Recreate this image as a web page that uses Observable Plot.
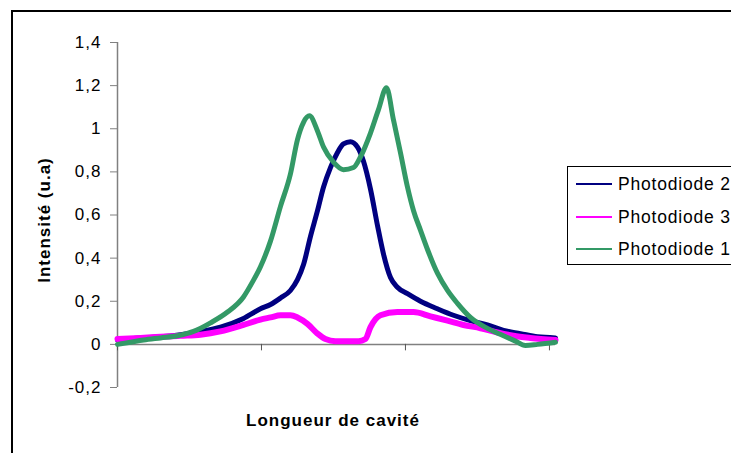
<!DOCTYPE html>
<html><head><meta charset="utf-8">
<script src="https://cdn.jsdelivr.net/npm/d3@7"></script>
<script src="https://cdn.jsdelivr.net/npm/@observablehq/plot@0.6"></script>
<style>
body{margin:0;background:#fff;}
#wrap{position:relative;width:731px;height:453px;overflow:hidden;font-family:Arial,"Liberation Sans",sans-serif;background:#fff;}
#wrap svg{position:absolute;left:0;top:0;}
#wrap svg text{letter-spacing:1px;}
#frame{position:absolute;left:11px;top:10px;width:800px;height:500px;border-left:2px solid #000;border-top:2px solid #000;pointer-events:none;}
#legend{position:absolute;left:567px;top:166px;width:200px;height:97px;border:1px solid #000;background:#fff;}
.item{position:absolute;left:8px;height:20px;display:flex;align-items:center;font-size:17.5px;letter-spacing:0.8px;white-space:nowrap;}
.swatch{display:inline-block;width:36px;height:0;border-top:2px solid;margin-right:6px;}
.ylab{position:absolute;left:45px;top:220px;transform:translate(-50%,-50%) rotate(-90deg);font-weight:bold;font-size:17px;letter-spacing:1px;white-space:nowrap;}
.xlab{position:absolute;left:333px;top:421px;transform:translate(-50%,-50%);font-weight:bold;font-size:17px;letter-spacing:1px;white-space:nowrap;}
</style></head>
<body>
<div id="wrap"></div>
<script>
// Series (x: cavity length, arbitrary units; y: intensity u.a)
const seriesNames = ["Photodiode 2", "Photodiode 3", "Photodiode 1"];
const seriesColors = ["#000080", "#FF00FF", "#339966"];

const p2X = [0,0.160,0.299,0.438,0.576,0.715,0.875,0.993,1.063,1.132,1.201,1.250,1.292,1.340,1.389,1.431,1.479,1.528,1.569,1.618,1.667,1.708,1.757,1.806,1.847,1.896,1.944,2.014,2.104,2.222,2.333,2.451,2.569,2.681,2.799,2.917,3.042];
const p2Y = [0.02,0.03,0.035,0.045,0.06,0.08,0.12,0.165,0.185,0.215,0.25,0.30,0.37,0.50,0.62,0.73,0.82,0.89,0.93,0.94,0.915,0.85,0.72,0.55,0.42,0.31,0.265,0.235,0.20,0.165,0.135,0.11,0.09,0.065,0.05,0.035,0.03];

const p3X = [0,0.160,0.299,0.438,0.576,0.715,0.875,0.993,1.063,1.132,1.201,1.250,1.319,1.389,1.444,1.514,1.597,1.674,1.722,1.757,1.826,1.944,2.056,2.174,2.292,2.403,2.521,2.639,2.750,2.868,3.042];
const p3Y = [0.025,0.03,0.035,0.04,0.045,0.06,0.09,0.115,0.125,0.135,0.135,0.125,0.095,0.05,0.025,0.015,0.015,0.015,0.025,0.08,0.135,0.15,0.15,0.13,0.11,0.09,0.075,0.055,0.04,0.03,0.02];

const p1X = [0,0.090,0.181,0.299,0.417,0.528,0.646,0.764,0.875,0.938,0.993,1.063,1.132,1.201,1.250,1.292,1.333,1.389,1.431,1.500,1.569,1.639,1.688,1.757,1.813,1.868,1.917,1.965,2.014,2.056,2.104,2.153,2.222,2.292,2.361,2.451,2.569,2.681,2.764,2.833,2.917,3.042];
const p1Y = [0.0,0.01,0.02,0.03,0.04,0.06,0.10,0.15,0.22,0.29,0.36,0.48,0.64,0.79,0.95,1.03,1.06,0.99,0.915,0.845,0.81,0.82,0.87,0.98,1.09,1.19,1.04,0.89,0.73,0.62,0.53,0.44,0.33,0.25,0.19,0.125,0.074,0.04,0.015,-0.005,0.0,0.01];

const yTicks = [-0.2,0,0.2,0.4,0.6,0.8,1,1.2,1.4];
const yTickLabels = ["-0,2","0","0,2","0,4","0,6","0,8","1","1,2","1,4"];
const xTicks = [0,1,2,3];
const xDomain = [0, 3.042];
const yDomain = [-0.2, 1.4];
const yTitle = "Intensité (u.a)";
const xTitle = "Longueur de cavité";

const table = (xs, ys, name) => xs.map((x, i) => ({x, y: ys[i], series: name}));
const d2 = table(p2X, p2Y, seriesNames[0]);
const d3s = table(p3X, p3Y, seriesNames[1]);
const d1 = table(p1X, p1Y, seriesNames[2]);

const chart = Plot.plot({
  width: 731, height: 453,
  marginLeft: 117, marginRight: 176, marginTop: 42, marginBottom: 66,
  style: {fontFamily: "Arial, 'Liberation Sans', sans-serif", fontSize: "17px", background: "transparent", color: "#000"},
  x: {domain: xDomain, axis: null},
  y: {domain: yDomain},
  marks: [
    Plot.axisY({ticks: yTicks, tickFormat: (d, i) => yTickLabels[yTicks.indexOf(d)], tickSize: 7, tickPadding: 9, stroke: "#808080", fill: "#000", label: null}),
    Plot.ruleX([0], {y1: yDomain[0], y2: yDomain[1], stroke: "#808080", strokeWidth: 1.5}),
    Plot.ruleY([0], {x1: xDomain[0], x2: xDomain[1], stroke: "#808080", strokeWidth: 1.5}),
    Plot.ruleX(xTicks, {x: d => d, y1: 0, y2: -0.03, stroke: "#555"}),
    Plot.line(d2, {x: "x", y: "y", stroke: seriesColors[0], strokeWidth: 5, curve: "monotone-x"}),
    Plot.line(d3s, {x: "x", y: "y", stroke: seriesColors[1], strokeWidth: 6, curve: "monotone-x"}),
    Plot.line(d1, {x: "x", y: "y", stroke: seriesColors[2], strokeWidth: 5, curve: "monotone-x"})
  ]
});

const wrap = document.getElementById("wrap");
wrap.appendChild(chart);

const yl = document.createElement("div"); yl.className = "ylab"; yl.textContent = yTitle; wrap.appendChild(yl);
const xl = document.createElement("div"); xl.className = "xlab"; xl.textContent = xTitle; wrap.appendChild(xl);

const legend = document.createElement("div"); legend.id = "legend";
const rowTops = [7, 40, 72];
seriesNames.forEach((n, i) => {
  const it = document.createElement("div"); it.className = "item"; it.style.top = rowTops[i] + "px";
  const sw = document.createElement("span"); sw.className = "swatch"; sw.style.borderColor = seriesColors[i];
  it.appendChild(sw); it.appendChild(document.createTextNode(n));
  legend.appendChild(it);
});
wrap.appendChild(legend);

const frame = document.createElement("div"); frame.id = "frame"; wrap.appendChild(frame);
</script>
</body></html>
